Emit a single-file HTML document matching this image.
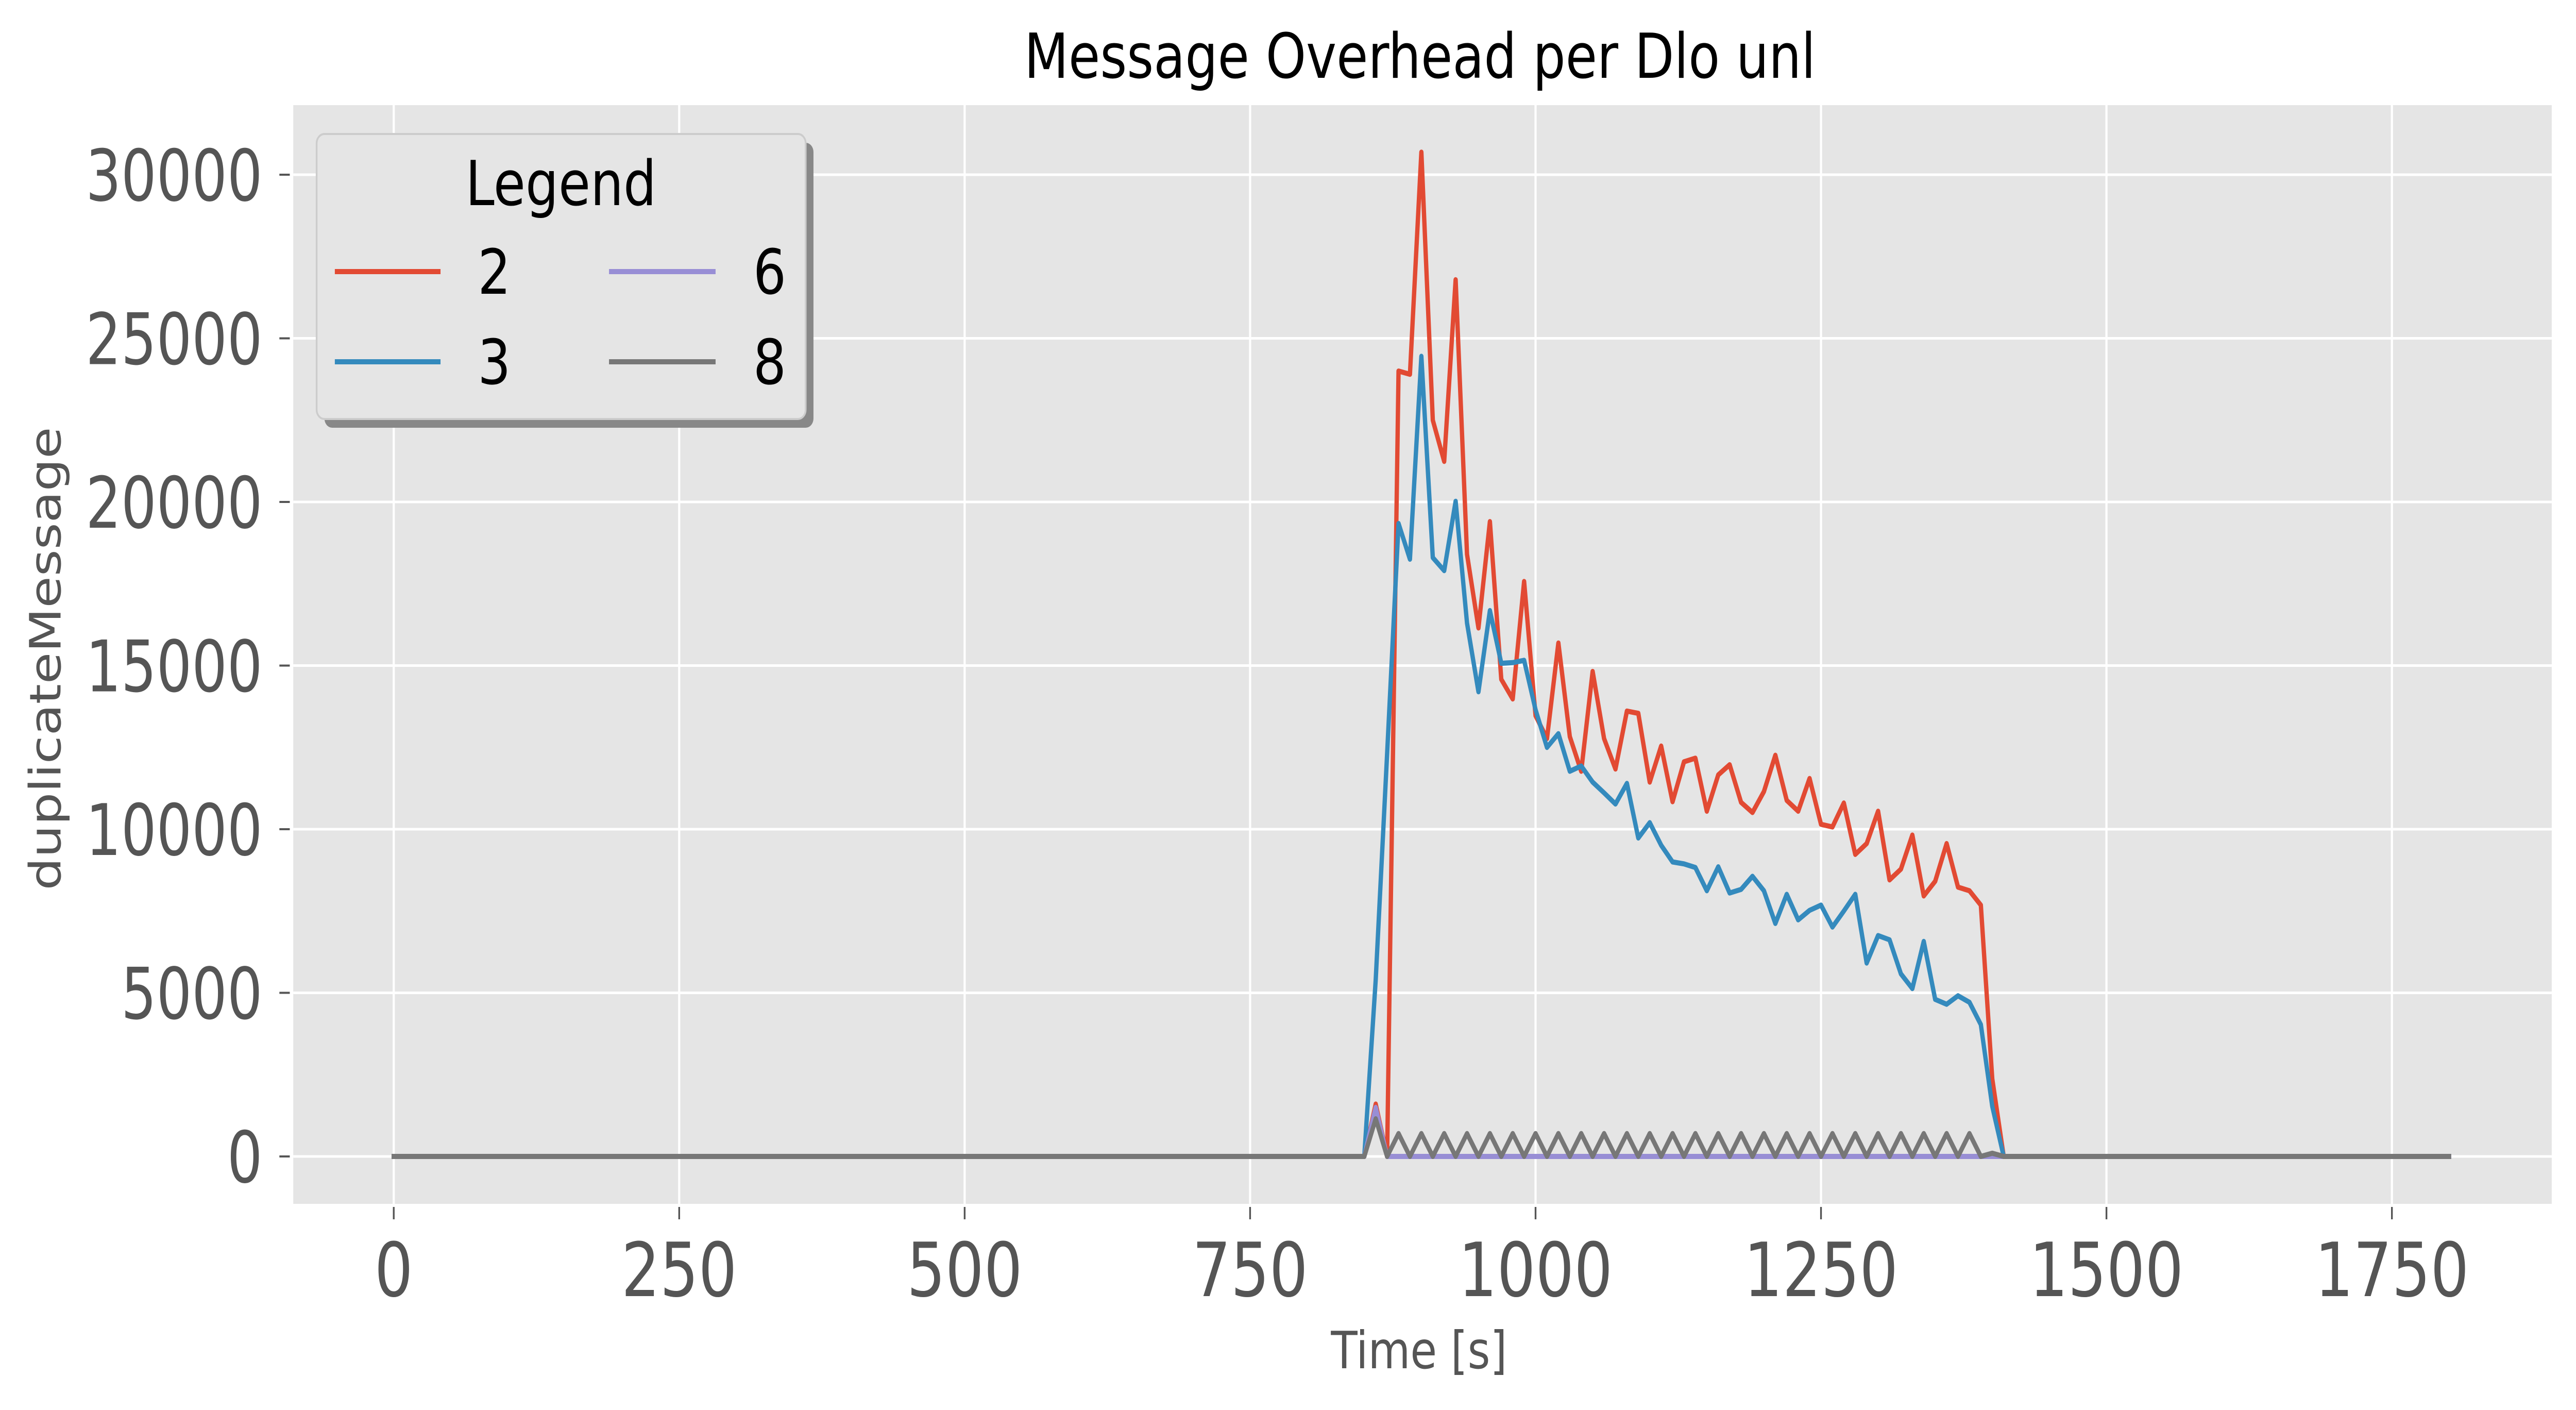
<!DOCTYPE html>
<html><head><meta charset="utf-8"><style>
html,body{margin:0;padding:0;background:#fff;width:100%;height:100%;overflow:hidden;}
svg{display:block;width:100vw;height:100vh;}
text{font-family:"DejaVu Sans","Liberation Sans",sans-serif;}
</style></head><body>
<svg id="chart" xmlns="http://www.w3.org/2000/svg" viewBox="0 0 5947 2736" preserveAspectRatio="none">
<rect x="0" y="0" width="5947" height="2736" fill="#ffffff"/>
<text x="3278" y="151" font-size="120" text-anchor="middle" fill="#000" textLength="1827" lengthAdjust="spacingAndGlyphs">Message Overhead per Dlo unl</text>
<rect x="677" y="204" width="5214" height="2132" fill="#E5E5E5"/>
<g id="grid"></g>
<g id="ticks"></g>
<g id="series"></g>
<text x="3276" y="2655" font-size="100" text-anchor="middle" fill="#555">Time [s]</text>
<text transform="translate(140,1278) rotate(-90)" font-size="100" text-anchor="middle" fill="#555" textLength="899" lengthAdjust="spacingAndGlyphs">duplicateMessage</text>
<g id="legend">
  <rect x="749" y="277" width="1129" height="553" rx="18" fill="#888"/>
  <rect x="731" y="260" width="1129" height="553" rx="18" fill="#E5E5E5" stroke="#cccccc" stroke-width="4"/>
  <text x="1295" y="398" font-size="120" text-anchor="middle" fill="#000">Legend</text>
  <g>
    <line x1="773" y1="527" x2="1017" y2="527" stroke="#E24A33" stroke-width="10"/>
    <text x="1141" y="570" font-size="120" text-anchor="middle" fill="#000">2</text>
  </g>
  <g>
    <line x1="773" y1="702" x2="1017" y2="702" stroke="#348ABD" stroke-width="10"/>
    <text x="1141" y="745" font-size="120" text-anchor="middle" fill="#000">3</text>
  </g>
  <g>
    <line x1="1406" y1="527" x2="1652" y2="527" stroke="#988ED5" stroke-width="10"/>
    <text x="1777" y="570" font-size="120" text-anchor="middle" fill="#000">6</text>
  </g>
  <g>
    <line x1="1406" y1="702" x2="1652" y2="702" stroke="#777777" stroke-width="10"/>
    <text x="1777" y="745" font-size="120" text-anchor="middle" fill="#000">8</text>
  </g>
</g>
</svg>
<script>
const times = [0,840,850,860,870,880,890,900,910,920,930,940,950,960,970,980,990,1000,1010,1020,1030,1040,1050,1060,1070,1080,1090,1100,1110,1120,1130,1140,1150,1160,1170,1180,1190,1200,1210,1220,1230,1240,1250,1260,1270,1280,1290,1300,1310,1320,1330,1340,1350,1360,1370,1380,1390,1400,1410,1420,1800];
const series2 = [0,0,0,1600,0,24000,23900,30690,22500,21240,26790,18400,16150,19400,14580,13980,17570,13470,12770,15690,12830,11770,14820,12770,11840,13610,13540,11440,12540,10840,12060,12170,10550,11660,11970,10820,10510,11150,12260,10880,10550,11550,10150,10070,10800,9230,9560,10550,8450,8780,9820,7960,8410,9560,8230,8120,7680,2370,0,0,0];
const series3 = [0,0,0,5400,12300,19340,18250,24450,18300,17900,20020,16300,14200,16680,15070,15090,15160,13650,12500,12920,11770,11930,11440,11110,10770,11400,9730,10200,9510,9000,8940,8830,8120,8850,8050,8160,8560,8120,7120,8010,7230,7520,7680,7010,7500,8010,5910,6750,6620,5580,5130,6570,4800,4650,4910,4710,4030,1530,0,0,0];
const series6 = [0,0,0,1500,0,0,0,0,0,0,0,0,0,0,0,0,0,0,0,0,0,0,0,0,0,0,0,0,0,0,0,0,0,0,0,0,0,0,0,0,0,0,0,0,0,0,0,0,0,0,0,0,0,0,0,0,0,0,0,0,0];
const series8 = [0,0,0,1150,0,700,0,700,0,700,0,700,0,700,0,700,0,700,0,700,0,700,0,700,0,700,0,700,0,700,0,700,0,700,0,700,0,700,0,700,0,700,0,700,0,700,0,700,0,700,0,700,0,700,0,700,0,100,0,0,0];
const xTicks = [0,250,500,750,1000,1250,1500,1750];
const yTicks = [0,5000,10000,15000,20000,25000,30000];

const NS = "http://www.w3.org/2000/svg";
function xs(v){ return 909 + v * (659/250); }
function ys(v){ return 2244 - v * (317.5/5000); }
function mk(tag, attrs, parent){
  const e = document.createElementNS(NS, tag);
  for (const k in attrs) e.setAttribute(k, attrs[k]);
  parent.appendChild(e);
  return e;
}
const grid = document.getElementById('grid');
const ticks = document.getElementById('ticks');
const seriesG = document.getElementById('series');

xTicks.forEach(t => {
  const g = mk('line', {x1: xs(t), x2: xs(t), y1: 204, y2: 2336, stroke: '#ffffff', 'stroke-width': 5}, grid);
  
  
  const tk = mk('line', {x1: xs(t), x2: xs(t), y1: 2342, y2: 2366, stroke: '#555', 'stroke-width': 4}, ticks);
  
  
  const s = String(t);
  const lb = mk('text', {x: xs(t), y: 2515, 'font-size': 145, 'text-anchor': 'middle', fill: '#555', textLength: s.length * 89, lengthAdjust: 'spacingAndGlyphs'}, ticks);
  lb.textContent = s;
  
  
});
yTicks.forEach(t => {
  const g = mk('line', {x1: 677, x2: 5891, y1: ys(t), y2: ys(t), stroke: '#ffffff', 'stroke-width': 5}, grid);
  
  
  const tk = mk('line', {x1: 645, x2: 669, y1: ys(t), y2: ys(t), stroke: '#555', 'stroke-width': 4}, ticks);
  
  
  const s = String(t);
  const lb = mk('text', {x: 606, y: ys(t) + 50, 'font-size': 138, 'text-anchor': 'end', fill: '#555', textLength: s.length * 81.6, lengthAdjust: 'spacingAndGlyphs'}, ticks);
  lb.textContent = s;
  
  
});

function drawLine(vals, color, name){
  const pts = times.map((t, i) => xs(t).toFixed(1) + ',' + ys(vals[i]).toFixed(1)).join(' ');
  const p = mk('polyline', {points: pts, fill: 'none', stroke: color, 'stroke-width': 10, 'stroke-linejoin': 'round', 'stroke-linecap': 'square'}, seriesG);
  
  
}
drawLine(series2, '#E24A33', 'series-2-line');
drawLine(series3, '#348ABD', 'series-3-line');
drawLine(series6, '#988ED5', 'series-6-line');
drawLine(series8, '#777777', 'series-8-line');
</script>
</body></html>
